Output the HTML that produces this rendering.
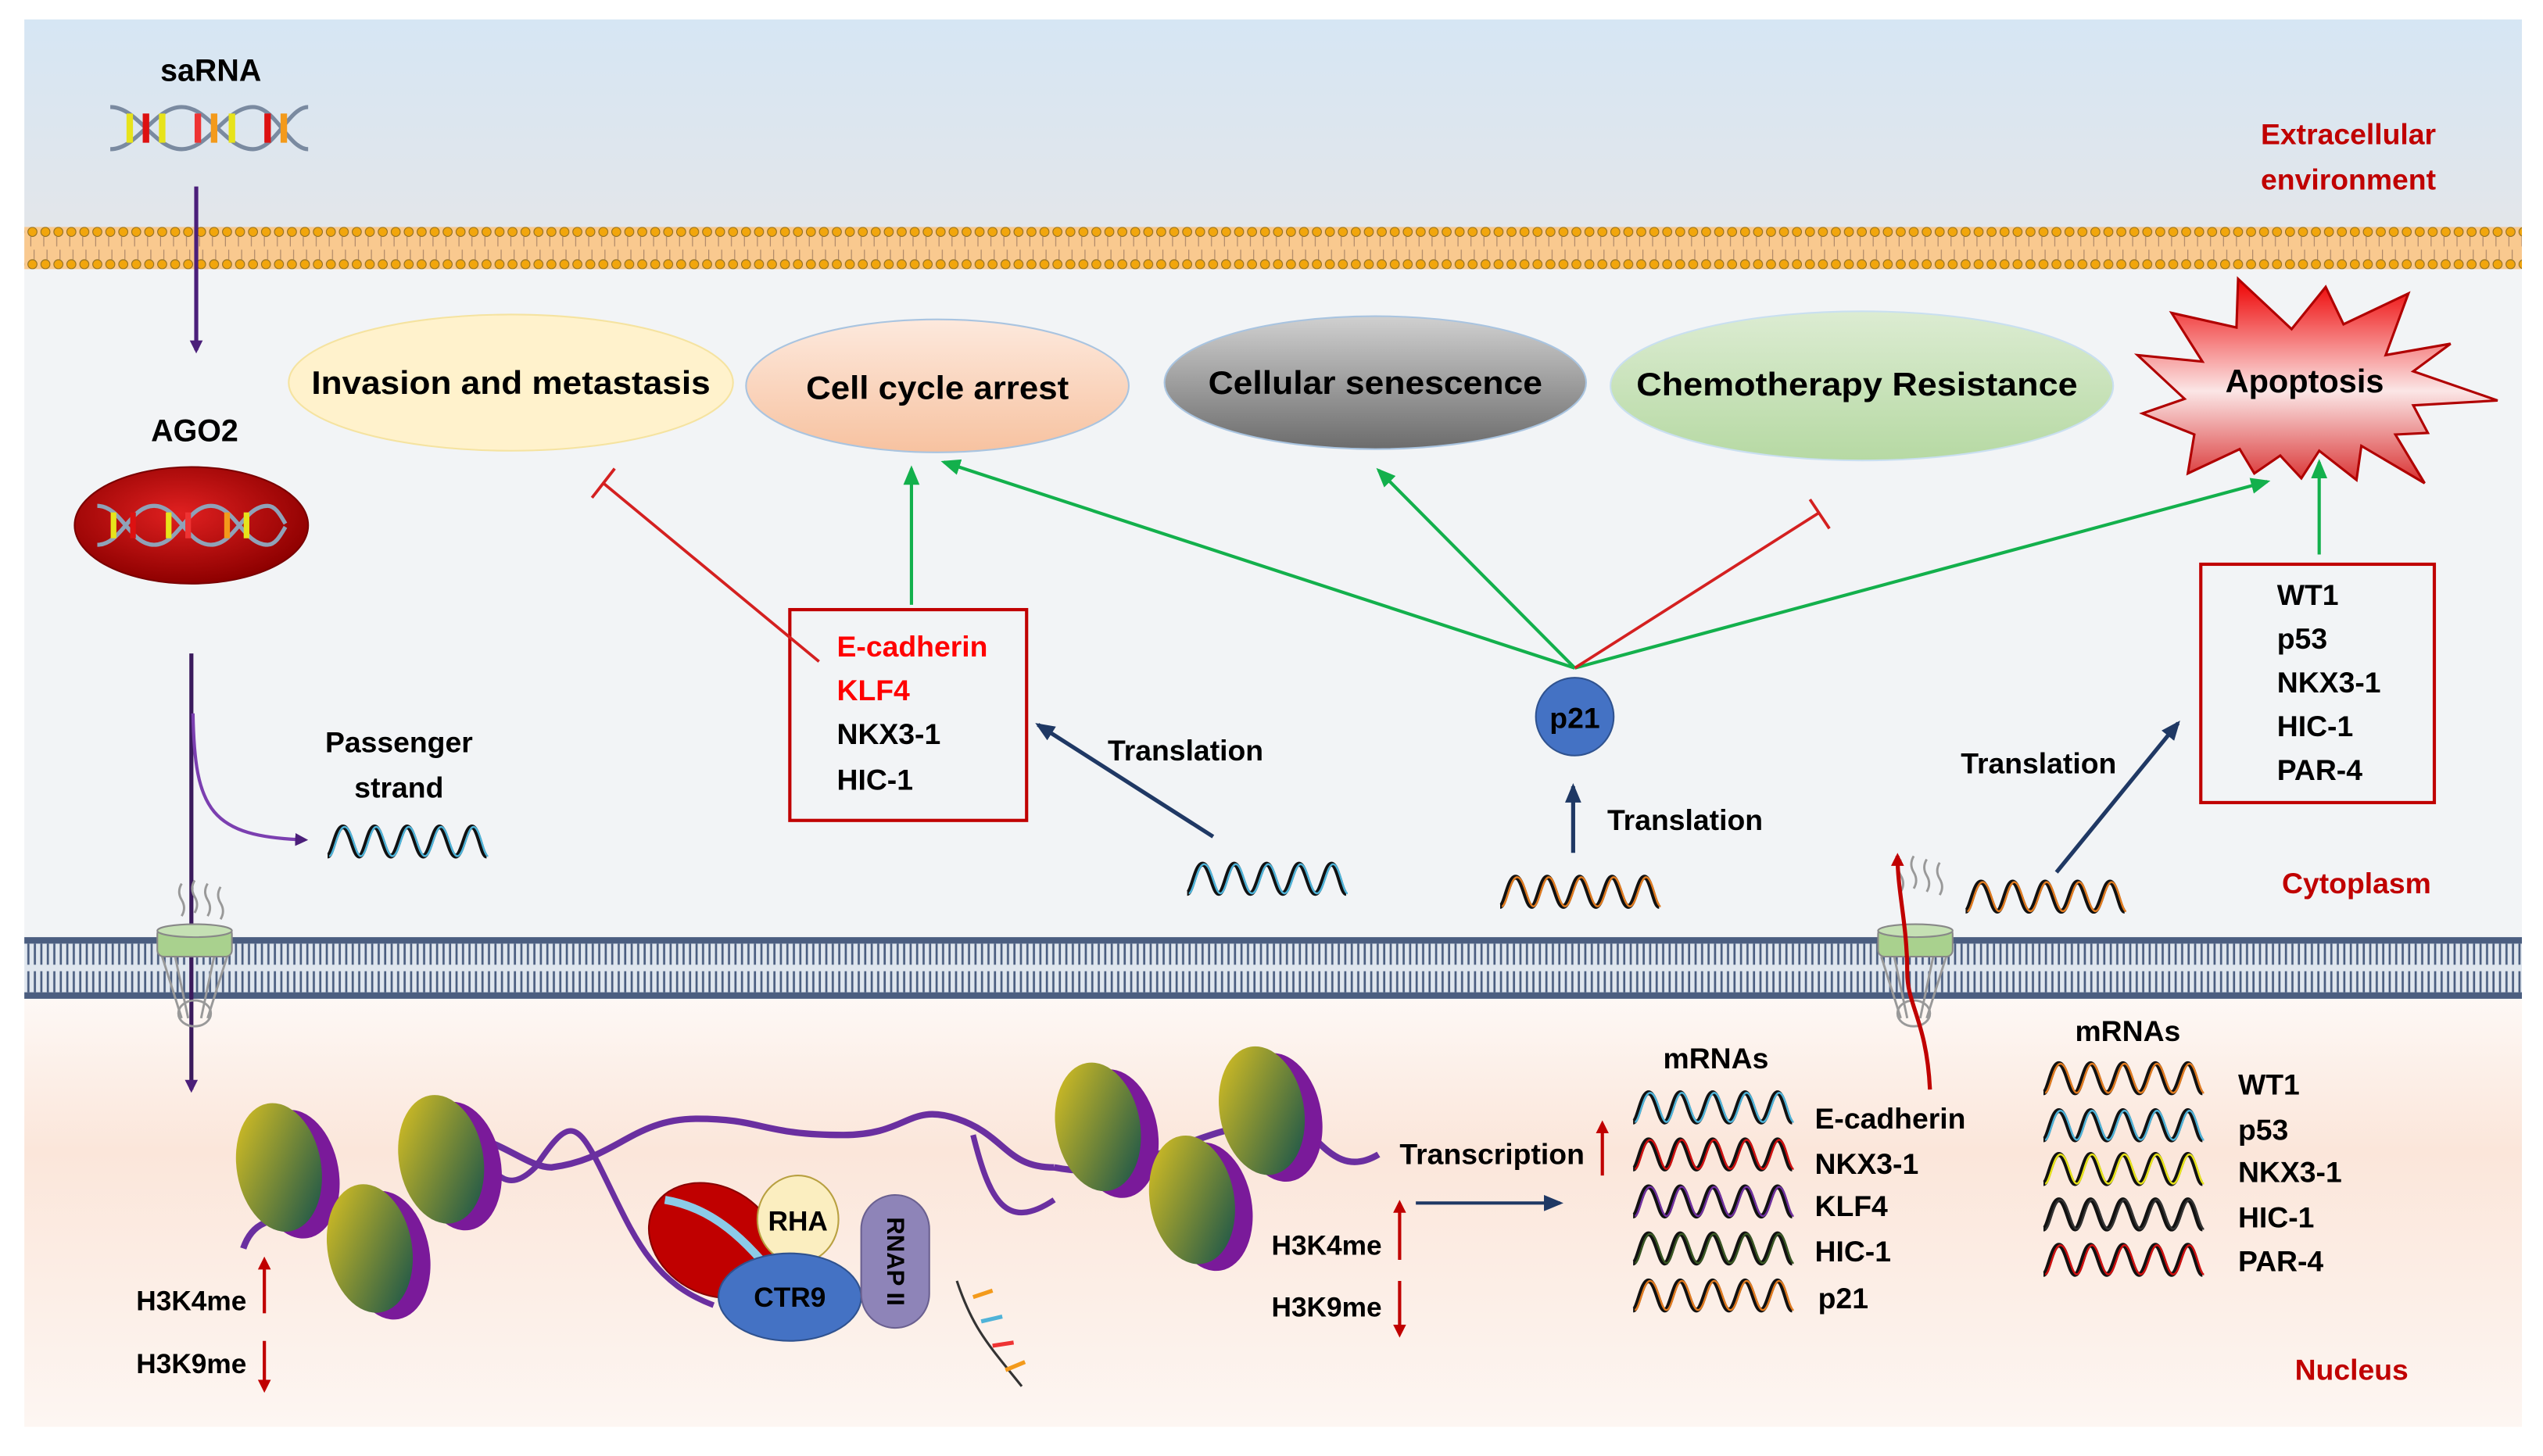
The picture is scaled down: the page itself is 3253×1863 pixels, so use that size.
<!DOCTYPE html>
<html><head><meta charset="utf-8"><style>html,body{margin:0;padding:0;background:#fff}svg{display:block}</style></head>
<body>
<svg width="3253" height="1863" viewBox="0 0 1568 898" xmlns="http://www.w3.org/2000/svg" font-family="'Liberation Sans', sans-serif" font-weight="bold">
<defs>
<linearGradient id="sky" x1="0" y1="0" x2="0" y2="1"><stop offset="0" stop-color="#d6e6f4"/><stop offset="1" stop-color="#e4e6e9"/></linearGradient>
<linearGradient id="nuc" x1="0" y1="0" x2="0" y2="1"><stop offset="0" stop-color="#fefcfb"/><stop offset="0.4" stop-color="#fbe6da"/><stop offset="1" stop-color="#fdf6f2"/></linearGradient>
<linearGradient id="peach" x1="0" y1="0" x2="0" y2="1"><stop offset="0" stop-color="#fde9dd"/><stop offset="1" stop-color="#f7c2a0"/></linearGradient>
<linearGradient id="grey" x1="0" y1="0" x2="0" y2="1"><stop offset="0" stop-color="#d0d0d0"/><stop offset="1" stop-color="#6c6c6c"/></linearGradient>
<linearGradient id="green" x1="0" y1="0" x2="0" y2="1"><stop offset="0" stop-color="#dcecd2"/><stop offset="1" stop-color="#b6d9a3"/></linearGradient>
<linearGradient id="burst" x1="0" y1="0" x2="0" y2="1"><stop offset="0" stop-color="#ee0000"/><stop offset="0.55" stop-color="#fbe6e6"/><stop offset="1" stop-color="#d93030"/></linearGradient>
<radialGradient id="ago" cx="0.45" cy="0.4" r="0.6"><stop offset="0" stop-color="#e02020"/><stop offset="1" stop-color="#8e0000"/></radialGradient>
<linearGradient id="nucleo" x1="0" y1="0" x2="1" y2="1"><stop offset="0" stop-color="#e3c620"/><stop offset="1" stop-color="#0c4d4d"/></linearGradient>
<pattern id="pm" x="0" y="140" width="8" height="26" patternUnits="userSpaceOnUse">
<rect width="8" height="26" fill="#f9c98f"/><circle cx="4" cy="3" r="2.8" fill="#f2a60c" stroke="#8a6a20" stroke-width="0.5"/><circle cx="4" cy="23" r="2.8" fill="#f2a60c" stroke="#8a6a20" stroke-width="0.5"/><line x1="3" y1="6" x2="3" y2="12" stroke="#b08a6a" stroke-width="0.6"/><line x1="5" y1="14" x2="5" y2="20" stroke="#b08a6a" stroke-width="0.6"/></pattern>
<pattern id="nm" x="0" y="578" width="4" height="38" patternUnits="userSpaceOnUse">
<rect width="4" height="38" fill="#dfe6ee"/><rect x="0" y="0" width="4" height="4" fill="#4b5e80"/><rect x="0" y="34" width="4" height="4" fill="#4b5e80"/><line x1="1.5" y1="4" x2="1.5" y2="17" stroke="#4b5e80" stroke-width="1.3"/><line x1="1.5" y1="21" x2="1.5" y2="34" stroke="#4b5e80" stroke-width="1.3"/></pattern>
<path id="wave" d="M0,18 C3,18 5,0 9.5,0 C14,0 16,18 19.5,18 C23,18 25,0 29,0 C33,0 35,18 39,18 C43,18 45,0 49,0 C53,0 55,18 59,18 C63,18 65,0 69,0 C73,0 75,18 79,18 C83,18 85,0 89,0 C93,0 95,18 98,18" fill="none"/>
<marker id="aP" markerWidth="8" markerHeight="8" refX="6" refY="4" orient="auto" markerUnits="userSpaceOnUse"><path d="M0,0 L8,4 L0,8z" fill="#4b1f7a"/></marker>
<marker id="aG" markerWidth="12" markerHeight="10" refX="10" refY="5" orient="auto" markerUnits="userSpaceOnUse"><path d="M0,0 L12,5 L0,10z" fill="#13b04c"/></marker>
<marker id="aB" markerWidth="12" markerHeight="10" refX="10" refY="5" orient="auto" markerUnits="userSpaceOnUse"><path d="M0,0 L12,5 L0,10z" fill="#1f3864"/></marker>
<marker id="aR" markerWidth="8" markerHeight="8" refX="6" refY="4" orient="auto" markerUnits="userSpaceOnUse"><path d="M0,0 L8,4 L0,8z" fill="#c00000"/></marker>
</defs>

<rect x="15" y="12" width="1540" height="140" fill="url(#sky)"/>
<rect x="15" y="152" width="1540" height="440" fill="#f2f4f6"/>
<rect x="15" y="596" width="1540" height="284" fill="url(#nuc)"/>
<rect x="15" y="140" width="1540" height="26" fill="url(#pm)"/>
<rect x="15" y="578" width="1540" height="38" fill="url(#nm)"/>

<!-- saRNA -->
<text x="130" y="50" font-size="19" text-anchor="middle">saRNA</text>
<g stroke-width="2.5">
<path d="M68,66 C85,66 95,92 112,92 C129,92 139,66 156,66 C170,66 178,92 190,92" stroke="#7a8aa0" fill="none"/>
<path d="M68,92 C85,92 95,66 112,66 C129,66 139,92 156,92 C170,92 178,66 190,66" stroke="#7a8aa0" fill="none"/>
<g stroke-width="4"><line x1="80" y1="70" x2="80" y2="88" stroke="#e7e31b"/><line x1="90" y1="70" x2="90" y2="88" stroke="#d11"/><line x1="100" y1="70" x2="100" y2="88" stroke="#e7e31b"/><line x1="122" y1="70" x2="122" y2="88" stroke="#e33"/><line x1="132" y1="70" x2="132" y2="88" stroke="#f39a1b"/><line x1="143" y1="70" x2="143" y2="88" stroke="#e7e31b"/><line x1="165" y1="70" x2="165" y2="88" stroke="#d11"/><line x1="175" y1="70" x2="175" y2="88" stroke="#f39a1b"/></g>
</g>
<line x1="121" y1="115" x2="121" y2="216" stroke="#4b1f7a" stroke-width="2.5" marker-end="url(#aP)"/>

<text x="120" y="272" font-size="19" text-anchor="middle">AGO2</text>
<ellipse cx="118" cy="324" rx="72" ry="36" fill="url(#ago)" stroke="#7a0000"/>
<g stroke-width="2.5" fill="none">
<path d="M60,312 C75,312 80,336 95,336 C110,336 115,312 130,312 C145,312 150,336 165,336 C170,336 173,330 176,325" stroke="#8fa2b8"/>
<path d="M60,336 C75,336 80,312 95,312 C110,312 115,336 130,336 C145,336 150,312 165,312 C170,312 173,318 176,323" stroke="#8fa2b8"/>
</g>
<g stroke-width="3.5"><line x1="70" y1="316" x2="70" y2="332" stroke="#e7e31b"/><line x1="82" y1="316" x2="82" y2="332" stroke="#d11"/><line x1="104" y1="316" x2="104" y2="332" stroke="#e7e31b"/><line x1="116" y1="316" x2="116" y2="332" stroke="#e33"/><line x1="140" y1="316" x2="140" y2="332" stroke="#f39a1b"/><line x1="152" y1="316" x2="152" y2="332" stroke="#e7e31b"/></g>

<line x1="118" y1="403" x2="118" y2="672" stroke="#3a1a5c" stroke-width="2.5" marker-end="url(#aP)"/>
<path d="M119,440 C120,500 130,516 188,518" stroke="#7b3fb0" stroke-width="2" fill="none" marker-end="url(#aP)"/>
<text x="246" y="464" font-size="18" text-anchor="middle">Passenger</text>
<text x="246" y="492" font-size="18" text-anchor="middle">strand</text>
<use href="#wave" x="202" y="510" stroke="#111" stroke-width="3"/><use href="#wave" x="203" y="510" stroke="#4fb3d8" stroke-width="1.2"/>

<!-- pores -->
<g fill="none" stroke="#999" stroke-width="1.4">
<path d="M112,545 q-3,5 0,10 q3,5 0,10 M120,543 q-3,5 0,10 q3,5 0,10 M128,545 q-3,5 0,10 q3,5 0,10 M136,547 q-3,5 0,10 q3,5 0,10"/>
<path d="M100,590 L112,628 M140,590 L128,628 M108,590 L116,628 M132,590 L124,628"/><ellipse cx="120" cy="625" rx="10" ry="8"/>
<path d="M1172,530 q-3,5 0,10 q3,5 0,10 M1180,528 q-3,5 0,10 q3,5 0,10 M1188,530 q-3,5 0,10 q3,5 0,10 M1196,532 q-3,5 0,10 q3,5 0,10"/>
<path d="M1160,590 L1172,628 M1200,590 L1188,628 M1168,590 L1176,628 M1192,590 L1184,628"/><ellipse cx="1180" cy="625" rx="10" ry="8"/>
</g>
<rect x="97" y="572" width="46" height="18" rx="4" fill="#a9d18e" stroke="#888"/>
<ellipse cx="120" cy="574" rx="23" ry="4" fill="#c5e0b4" stroke="#888"/>
<rect x="1158" y="572" width="46" height="18" rx="4" fill="#a9d18e" stroke="#888"/>
<ellipse cx="1181" cy="574" rx="23" ry="4" fill="#c5e0b4" stroke="#888"/>
<path d="M1190,672 C1188,630 1176,620 1176,600 C1176,570 1170,550 1170,528" stroke="#c00000" stroke-width="2.5" fill="none" marker-end="url(#aR)"/>

<!-- phenotype ellipses -->
<ellipse cx="315" cy="236" rx="137" ry="42" fill="#fff2cc" stroke="#f5e3a0"/>
<text x="315" y="243" font-size="20" text-anchor="middle" textLength="246" lengthAdjust="spacingAndGlyphs">Invasion and metastasis</text>
<ellipse cx="578" cy="238" rx="118" ry="41" fill="url(#peach)" stroke="#a9c4e0"/>
<text x="578" y="246" font-size="20" text-anchor="middle" textLength="162" lengthAdjust="spacingAndGlyphs">Cell cycle arrest</text>
<ellipse cx="848" cy="236" rx="130" ry="41" fill="url(#grey)" stroke="#a9c4e0"/>
<text x="848" y="243" font-size="20" text-anchor="middle" textLength="206" lengthAdjust="spacingAndGlyphs">Cellular senescence</text>
<ellipse cx="1148" cy="238" rx="155" ry="46" fill="url(#green)" stroke="#c9dff0"/>
<text x="1145" y="244" font-size="20" text-anchor="middle" textLength="272" lengthAdjust="spacingAndGlyphs">Chemotherapy Resistance</text>
<polygon points="1380,172 1413,203 1434,177 1445,200 1485,181 1471,219 1511,212 1488,229 1540,247 1488,250 1497,267 1477,268 1495,298 1456,275 1453,296 1430,278 1419,295 1406,281 1390,292 1381,277 1349,292 1353,268 1321,255 1347,246 1318,219 1358,223 1339,193 1379,202" fill="url(#burst)" stroke="#b00000" stroke-width="1.5"/>
<text x="1421" y="242" font-size="20" text-anchor="middle">Apoptosis</text>

<text x="1448" y="89" font-size="18" fill="#c00000" text-anchor="middle">Extracellular</text>
<text x="1448" y="117" font-size="18" fill="#c00000" text-anchor="middle">environment</text>
<text x="1453" y="551" font-size="18" fill="#c00000" text-anchor="middle">Cytoplasm</text>
<text x="1450" y="851" font-size="18" fill="#c00000" text-anchor="middle">Nucleus</text>

<!-- box 1 -->
<rect x="487" y="376" width="146" height="130" fill="none" stroke="#c00000" stroke-width="2"/>
<g font-size="18"><text x="516" y="405" fill="#ff0000">E-cadherin</text><text x="516" y="432" fill="#ff0000">KLF4</text><text x="516" y="459">NKX3-1</text><text x="516" y="487">HIC-1</text></g>
<line x1="505" y1="408" x2="372" y2="298" stroke="#d42020" stroke-width="1.8"/>
<line x1="365" y1="307" x2="379" y2="289" stroke="#d42020" stroke-width="1.8"/>
<line x1="562" y1="373" x2="562" y2="289" stroke="#13b04c" stroke-width="2" marker-end="url(#aG)"/>
<line x1="748" y1="516" x2="640" y2="447" stroke="#1f3864" stroke-width="2.5" marker-end="url(#aB)"/>
<text x="731" y="469" font-size="18" text-anchor="middle">Translation</text>
<use href="#wave" x="732" y="533" stroke="#111" stroke-width="3"/><use href="#wave" x="733" y="533" stroke="#4fb3d8" stroke-width="1.2"/>

<!-- p21 -->
<g stroke="#13b04c" stroke-width="2">
<line x1="971" y1="412" x2="582" y2="285" marker-end="url(#aG)"/>
<line x1="971" y1="412" x2="850" y2="290" marker-end="url(#aG)"/>
<line x1="971" y1="412" x2="1398" y2="297" marker-end="url(#aG)"/>
<line x1="1430" y1="342" x2="1430" y2="285" marker-end="url(#aG)"/>
</g>
<line x1="971" y1="412" x2="1122" y2="316" stroke="#d42020" stroke-width="1.8"/>
<line x1="1116" y1="308" x2="1128" y2="326" stroke="#d42020" stroke-width="1.8"/>
<circle cx="971" cy="442" r="24" fill="#4472c4" stroke="#2f528f"/>
<text x="971" y="449" font-size="18" text-anchor="middle">p21</text>
<line x1="970" y1="526" x2="970" y2="485" stroke="#1f3864" stroke-width="2.5" marker-end="url(#aB)"/>
<text x="1039" y="512" font-size="18" text-anchor="middle">Translation</text>
<use href="#wave" x="925" y="541" stroke="#111" stroke-width="3"/><use href="#wave" x="926" y="541" stroke="#e07b20" stroke-width="1.2"/>

<!-- box 2 -->
<rect x="1357" y="348" width="144" height="147" fill="none" stroke="#c00000" stroke-width="2"/>
<g font-size="18"><text x="1404" y="373">WT1</text><text x="1404" y="400">p53</text><text x="1404" y="427">NKX3-1</text><text x="1404" y="454">HIC-1</text><text x="1404" y="481">PAR-4</text></g>
<line x1="1268" y1="538" x2="1343" y2="446" stroke="#1f3864" stroke-width="2.5" marker-end="url(#aB)"/>
<text x="1257" y="477" font-size="18" text-anchor="middle">Translation</text>
<use href="#wave" x="1212" y="544" stroke="#111" stroke-width="3"/><use href="#wave" x="1213" y="544" stroke="#e07b20" stroke-width="1.2"/>

<!-- nucleus chromatin -->
<path d="M150,770 C160,740 190,760 200,745 M250,700 C300,690 320,720 340,720 C380,715 390,690 430,690 C470,690 470,700 520,700 C560,700 560,680 590,690 C620,700 620,720 650,720 M650,720 C700,730 720,700 790,690 C810,690 820,730 850,712" stroke="#6a2fa0" stroke-width="4" fill="none"/>
<path d="M290,690 C300,720 310,740 330,720 C350,690 355,690 370,720 C390,760 400,790 440,805 M600,700 C610,740 620,760 650,740" stroke="#6a2fa0" stroke-width="3.5" fill="none"/>
<path d="M590,790 C600,820 610,830 630,855" stroke="#333" stroke-width="1.5" fill="none"/>
<g stroke-width="2.5"><line x1="600" y1="800" x2="612" y2="796" stroke="#f39a1b"/><line x1="605" y1="815" x2="618" y2="812" stroke="#4fb3d8"/><line x1="612" y1="830" x2="625" y2="828" stroke="#e33"/><line x1="620" y1="845" x2="632" y2="840" stroke="#f39a1b"/></g>
<g>
<g transform="translate(172,720) rotate(-10)"><ellipse cx="10" cy="6" rx="26" ry="40" fill="#7a1a9a"/><ellipse cx="0" cy="0" rx="26" ry="40" fill="url(#nucleo)"/></g>
<g transform="translate(228,770) rotate(-10)"><ellipse cx="10" cy="6" rx="26" ry="40" fill="#7a1a9a"/><ellipse cx="0" cy="0" rx="26" ry="40" fill="url(#nucleo)"/></g>
<g transform="translate(272,715) rotate(-10)"><ellipse cx="10" cy="6" rx="26" ry="40" fill="#7a1a9a"/><ellipse cx="0" cy="0" rx="26" ry="40" fill="url(#nucleo)"/></g>
<g transform="translate(677,695) rotate(-10)"><ellipse cx="10" cy="6" rx="26" ry="40" fill="#7a1a9a"/><ellipse cx="0" cy="0" rx="26" ry="40" fill="url(#nucleo)"/></g>
<g transform="translate(735,740) rotate(-10)"><ellipse cx="10" cy="6" rx="26" ry="40" fill="#7a1a9a"/><ellipse cx="0" cy="0" rx="26" ry="40" fill="url(#nucleo)"/></g>
<g transform="translate(778,685) rotate(-10)"><ellipse cx="10" cy="6" rx="26" ry="40" fill="#7a1a9a"/><ellipse cx="0" cy="0" rx="26" ry="40" fill="url(#nucleo)"/></g>
</g>
<ellipse cx="440" cy="765" rx="42" ry="33" transform="rotate(30 440 765)" fill="#c00000" stroke="#800"/>
<path d="M410,740 C440,745 460,765 480,790" stroke="#8ccbe8" stroke-width="5" fill="none"/>
<ellipse cx="492" cy="752" rx="25" ry="27" fill="#fbeec0" stroke="#b8a040"/>
<text x="492" y="759" font-size="17" text-anchor="middle">RHA</text>
<ellipse cx="487" cy="800" rx="44" ry="27" fill="#4472c4" stroke="#2f528f"/>
<text x="487" y="806" font-size="17" text-anchor="middle">CTR9</text>
<rect x="531" y="737" width="42" height="82" rx="21" fill="#8e84b8" stroke="#6a6090"/>
<text x="552" y="778" font-size="15" text-anchor="middle" transform="rotate(90 552 778)" dy="5">RNAP II</text>

<text x="118" y="808" font-size="17" text-anchor="middle">H3K4me</text>
<line x1="163" y1="810" x2="163" y2="777" stroke="#c00000" stroke-width="2" marker-end="url(#aR)"/>
<text x="118" y="847" font-size="17" text-anchor="middle">H3K9me</text>
<line x1="163" y1="827" x2="163" y2="857" stroke="#c00000" stroke-width="2" marker-end="url(#aR)"/>

<text x="920" y="718" font-size="18" text-anchor="middle">Transcription</text>
<line x1="988" y1="725" x2="988" y2="693" stroke="#c00000" stroke-width="2" marker-end="url(#aR)"/>
<text x="818" y="774" font-size="17" text-anchor="middle">H3K4me</text>
<line x1="863" y1="777" x2="863" y2="742" stroke="#c00000" stroke-width="2" marker-end="url(#aR)"/>
<text x="818" y="812" font-size="17" text-anchor="middle">H3K9me</text>
<line x1="863" y1="790" x2="863" y2="823" stroke="#c00000" stroke-width="2" marker-end="url(#aR)"/>
<line x1="873" y1="742" x2="962" y2="742" stroke="#1f3864" stroke-width="2" marker-end="url(#aB)"/>

<text x="1058" y="659" font-size="18" text-anchor="middle">mRNAs</text>
<g>
<use href="#wave" x="1007" y="674" stroke="#111" stroke-width="3"/><use href="#wave" x="1008" y="674" stroke="#4fb3d8" stroke-width="1.2"/>
<use href="#wave" x="1007" y="703" stroke="#111" stroke-width="3"/><use href="#wave" x="1008" y="703" stroke="#d01010" stroke-width="1.2"/>
<use href="#wave" x="1007" y="732" stroke="#111" stroke-width="3"/><use href="#wave" x="1008" y="732" stroke="#7030a0" stroke-width="1.2"/>
<use href="#wave" x="1007" y="761" stroke="#111" stroke-width="3"/><use href="#wave" x="1008" y="761" stroke="#385723" stroke-width="1.2"/>
<use href="#wave" x="1007" y="790" stroke="#111" stroke-width="3"/><use href="#wave" x="1008" y="790" stroke="#e07b20" stroke-width="1.2"/>
</g>
<g font-size="18"><text x="1119" y="696">E-cadherin</text><text x="1119" y="724">NKX3-1</text><text x="1119" y="750">KLF4</text><text x="1119" y="778">HIC-1</text><text x="1121" y="807">p21</text></g>

<text x="1312" y="642" font-size="18" text-anchor="middle">mRNAs</text>
<g>
<use href="#wave" x="1260" y="656" stroke="#111" stroke-width="3"/><use href="#wave" x="1261" y="656" stroke="#e07b20" stroke-width="1.2"/>
<use href="#wave" x="1260" y="685" stroke="#111" stroke-width="3"/><use href="#wave" x="1261" y="685" stroke="#4fb3d8" stroke-width="1.2"/>
<use href="#wave" x="1260" y="712" stroke="#111" stroke-width="3"/><use href="#wave" x="1261" y="712" stroke="#e7e31b" stroke-width="1.2"/>
<use href="#wave" x="1260" y="740" stroke="#111" stroke-width="3"/><use href="#wave" x="1261" y="740" stroke="#333" stroke-width="1.2"/>
<use href="#wave" x="1260" y="768" stroke="#111" stroke-width="3"/><use href="#wave" x="1261" y="768" stroke="#d01010" stroke-width="1.2"/>
</g>
<g font-size="18"><text x="1380" y="675">WT1</text><text x="1380" y="703">p53</text><text x="1380" y="729">NKX3-1</text><text x="1380" y="757">HIC-1</text><text x="1380" y="784">PAR-4</text></g>
</svg>
</body></html>
